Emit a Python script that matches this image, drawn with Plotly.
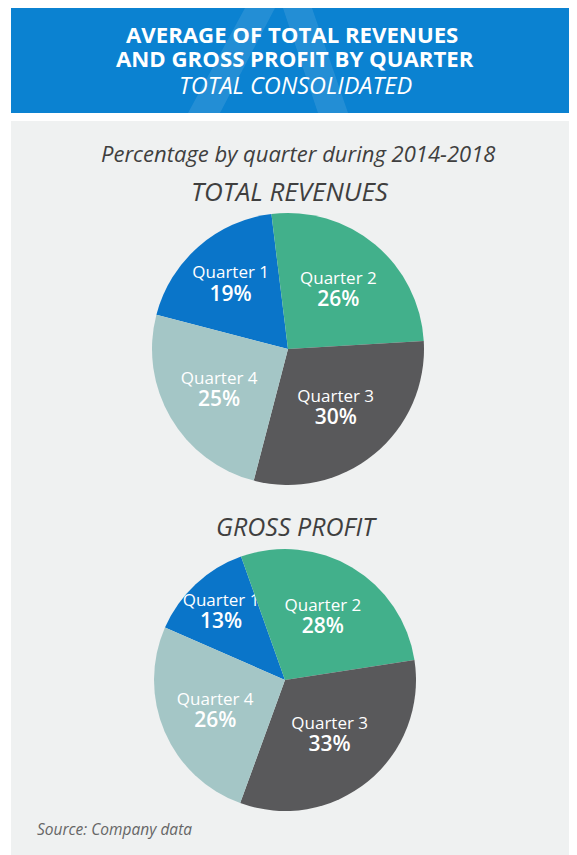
import plotly.graph_objects as go

quarters = ["Quarter 1", "Quarter 2", "Quarter 3", "Quarter 4"]
revenues_pct = [19, 26, 30, 25]
gross_profit_pct = [13, 28, 33, 26]
colors = ["#0a75c9", "#42b08b", "#59595b", "#a4c6c6"]

FONT = "Open Sans"
W, H = 577, 855
OFF = 8  # page body margin


def px_x(x):
    return (x - OFF) / W


def px_y(y):
    return 1 - (y - OFF) / H


fig = go.Figure()

tmpl = "%{label}<br><span style='font-size:21px;font-weight:600'>%{value}%</span>"

fig.add_trace(go.Pie(
    labels=quarters, values=revenues_pct, sort=False, direction="clockwise",
    rotation=-75.4, marker=dict(colors=colors, line=dict(width=0)),
    texttemplate=tmpl, textposition="inside", insidetextorientation="horizontal",
    textfont=dict(family=FONT, size=17, color="white"),
    domain=dict(x=[px_x(152), px_x(424)], y=[px_y(485), px_y(213)]),
    showlegend=False, hoverinfo="label+percent",
))

fig.add_trace(go.Pie(
    labels=quarters, values=gross_profit_pct, sort=False, direction="clockwise",
    rotation=-66.4, marker=dict(colors=colors, line=dict(width=0)),
    texttemplate=tmpl, textposition="inside", insidetextorientation="horizontal",
    textfont=dict(family=FONT, size=17, color="white"),
    domain=dict(x=[px_x(153), px_x(417)], y=[px_y(811), px_y(549)]),
    showlegend=False, hoverinfo="label+percent",
))

shapes = [
    # light panel
    dict(type="rect", xref="paper", yref="paper", x0=px_x(11), x1=px_x(569),
         y0=-0.05, y1=px_y(121), fillcolor="#eff1f1", line=dict(width=0), layer="below"),
    # blue header
    dict(type="rect", xref="paper", yref="paper", x0=px_x(11), x1=1.05,
         y0=px_y(113), y1=px_y(8), fillcolor="#0b82d1", line=dict(width=0), layer="below"),
    # faint logo watermark in header
    dict(type="path", xref="paper", yref="paper",
         path=f"M {px_x(188)},{px_y(113)} L {px_x(245)},{px_y(8)} L {px_x(275)},{px_y(8)} L {px_x(220)},{px_y(113)} Z",
         fillcolor="rgba(255,255,255,0.10)", line=dict(width=0), layer="below"),
    dict(type="path", xref="paper", yref="paper",
         path=f"M {px_x(283)},{px_y(8)} L {px_x(312)},{px_y(8)} L {px_x(348)},{px_y(113)} L {px_x(318)},{px_y(113)} Z",
         fillcolor="rgba(255,255,255,0.10)", line=dict(width=0), layer="below"),
]

annotations = [
    dict(text="<b>AVERAGE OF TOTAL REVENUES</b>", x=px_x(292), y=px_y(35),
         font=dict(family=FONT, size=22.2, color="white")),
    dict(text="<b>AND GROSS PROFIT BY QUARTER</b>", x=px_x(295), y=px_y(58.5),
         font=dict(family=FONT, size=22.2, color="white")),
    dict(text="<i>TOTAL CONSOLIDATED</i>", x=px_x(295), y=px_y(85),
         font=dict(family=FONT, size=23.5, color="white")),
    dict(text="<i>Percentage by quarter during 2014-2018</i>", x=px_x(298), y=px_y(153),
         font=dict(family=FONT, size=22, color="#3f3f3f")),
    dict(text="<i>TOTAL REVENUES</i>", x=px_x(290), y=px_y(191),
         font=dict(family=FONT, size=26, color="#3f3f3f")),
    dict(text="<i>GROSS PROFIT</i>", x=px_x(296), y=px_y(526),
         font=dict(family=FONT, size=25, color="#3f3f3f")),
    dict(text="<i>Source: Company data</i>", x=px_x(35), y=px_y(829), xanchor="left",
         font=dict(family=FONT, size=15.5, color="#666666")),
]
for a in annotations:
    a.update(xref="paper", yref="paper", showarrow=False)
    a.setdefault("xanchor", "center")
    a["yanchor"] = "middle"

fig.update_layout(
    width=W, height=H, margin=dict(l=0, r=0, t=0, b=0),
    paper_bgcolor="white", plot_bgcolor="white",
    shapes=shapes, annotations=annotations,
    font=dict(family=FONT),
    uniformtext=dict(minsize=17, mode="show"),
)

fig.write_html("out.html")
